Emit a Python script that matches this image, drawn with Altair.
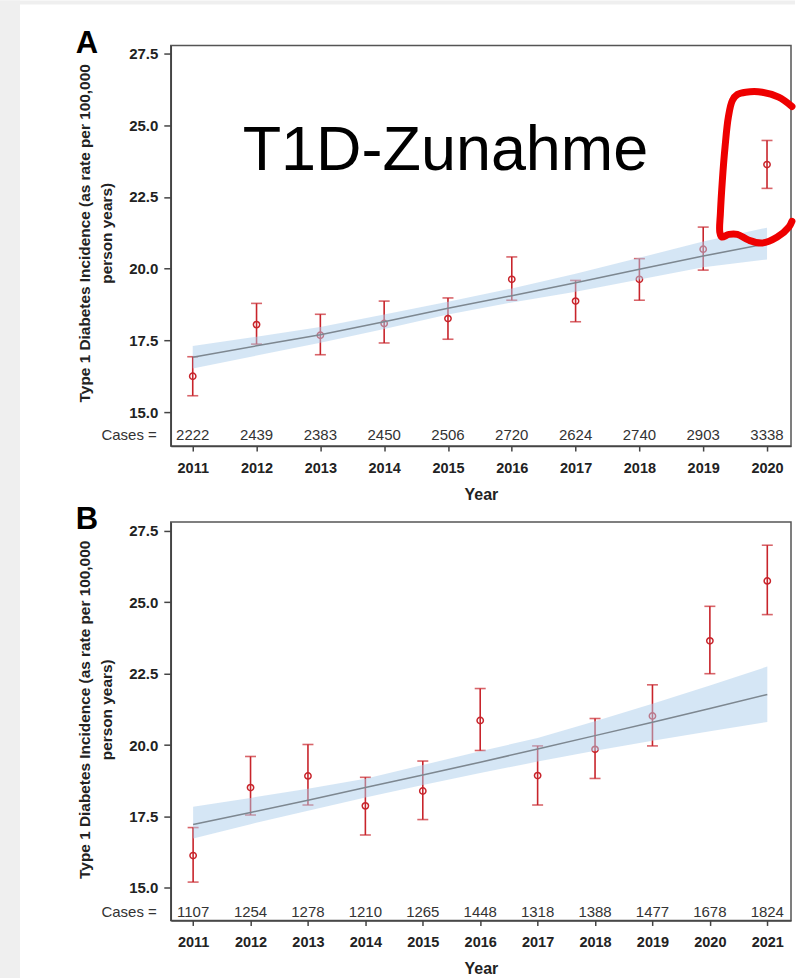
import altair as alt
import pandas as pd

FONT = "Liberation Sans, Arial, sans-serif"
RED = "#c8242b"
GRAY_BG = "#efefef"

# ---------------- Panel A data ----------------
YEARS_A = list(range(2011, 2021))
RATE_A = [16.25, 18.05, 17.68, 18.09, 18.26, 19.63, 18.87, 19.63, 20.68, 23.63]
LO_A = [15.57, 17.37, 17.00, 17.41, 17.54, 18.90, 18.15, 18.90, 19.95, 22.80]
HI_A = [16.93, 18.79, 18.41, 18.87, 18.98, 20.41, 19.59, 20.35, 21.45, 24.47]
CASES_A = [2222, 2439, 2383, 2450, 2506, 2720, 2624, 2740, 2903, 3338]
FIT_A = [16.91, 17.31, 17.70, 18.15, 18.62, 19.06, 19.51, 19.98, 20.44, 20.87]
FIT_LO_A = [16.52, 16.97, 17.42, 17.90, 18.40, 18.82, 19.20, 19.62, 20.05, 20.32]
FIT_HI_A = [17.30, 17.63, 17.97, 18.40, 18.85, 19.31, 19.82, 20.38, 20.95, 21.43]

# ---------------- Panel B data ----------------
YEARS_B = list(range(2011, 2022))
RATE_B = [16.13, 18.51, 18.92, 17.87, 18.39, 20.86, 18.93, 19.85, 21.02, 23.65, 25.75]
LO_B = [15.20, 17.55, 17.90, 16.85, 17.39, 19.81, 17.90, 18.83, 19.97, 22.50, 24.57]
HI_B = [17.11, 19.60, 20.02, 18.87, 19.44, 21.98, 19.97, 20.93, 22.11, 24.86, 27.00]
CASES_B = [1107, 1254, 1278, 1210, 1265, 1448, 1318, 1388, 1477, 1678, 1824]
FIT_B = [17.22, 17.64, 18.07, 18.51, 18.95, 19.40, 19.86, 20.33, 20.80, 21.28, 21.77]
FIT_LO_B = [16.73, 17.23, 17.70, 18.16, 18.60, 19.02, 19.42, 19.80, 20.15, 20.48, 20.81]
FIT_HI_B = [17.84, 18.15, 18.47, 18.82, 19.30, 19.78, 20.25, 20.83, 21.45, 22.09, 22.75]

Y_TICKS = [15.0, 17.5, 20.0, 22.5, 25.0, 27.5]
Y_TITLE = ["Type 1 Diabetes Incidence (as rate per 100,000", "person years)"]

# hand-drawn red annotation (in panel A data coordinates)
MARK_YEAR = [2020.391, 2020.182, 2019.926, 2019.666, 2019.535, 2019.457, 2019.394,
             2019.342, 2019.300, 2019.269, 2019.260, 2019.291, 2019.405, 2019.535,
             2019.718, 2019.926, 2020.161, 2020.344, 2020.391]
MARK_VAL = [25.655, 25.978, 26.153, 26.153, 26.072, 25.863, 25.282, 24.237, 23.078,
            21.918, 21.278, 21.104, 21.198, 21.198, 20.989, 20.895, 21.104, 21.452, 21.650]
ANNOTATION = "T1D-Zunahme"


def make_axes(years, title_y):
    xaxis = alt.Axis(values=years, format="d", title="Year", tickSize=5,
                     labelPadding=10, labelFontSize=14.5, titleFontSize=16,
                     titlePadding=12, labelOverlap=False, zindex=2)
    yaxis = alt.Axis(values=Y_TICKS, format=".1f", title=Y_TITLE, tickSize=7,
                     labelPadding=6, labelFontSize=15, titleFontSize=15.4,
                     titleLineHeight=22, titleX=-86, titleY=title_y,
                     titleBaseline="middle", titleAlign="center", zindex=2)
    return xaxis, yaxis


def panel(years, rate, lo, hi, cases, fit, fit_lo, fit_hi, xdom, ydom, height,
          letter, strips, cases_y, title_y, extra=None):
    df = pd.DataFrame(dict(year=years, rate=rate, lo=lo, hi=hi, cases=cases,
                           fit=fit, fit_lo=fit_lo, fit_hi=fit_hi))
    xs = alt.Scale(domain=xdom, nice=False, zero=False)
    ys = alt.Scale(domain=ydom, nice=False, zero=False)
    xaxis, yaxis = make_axes(years, title_y)

    def X(f):
        return alt.X(f, type="quantitative", scale=xs, axis=xaxis)

    def Y(f):
        return alt.Y(f, type="quantitative", scale=ys, axis=yaxis)

    one = pd.DataFrame({"t": [letter]})
    layers = []
    for (sx, sx2, sy, sy2) in strips:
        layers.append(alt.Chart(one).mark_rect(color=GRAY_BG, strokeWidth=0).encode(
            x=alt.value(sx), x2=alt.value(sx2), y=alt.value(sy), y2=alt.value(sy2)))
    frame = alt.Chart(one).mark_rect(fill=None, filled=False, stroke="#555", strokeWidth=1.5).encode(
        x=alt.value(0), x2=alt.value(621), y=alt.value(0), y2=alt.value(height))
    base = alt.Chart(df)
    rule = base.mark_rule(color=RED, strokeWidth=1.6).encode(x=X("year"), y=Y("lo"), y2="hi")
    tlo = base.mark_tick(color=RED, orient="horizontal", size=11, thickness=1.6).encode(
        x=X("year"), y=Y("lo"))
    thi = base.mark_tick(color=RED, orient="horizontal", size=11, thickness=1.6).encode(
        x=X("year"), y=Y("hi"))
    pts = base.mark_point(shape="circle", size=40, filled=False, color=RED,
                          strokeWidth=1.5, opacity=1).encode(x=X("year"), y=Y("rate"))
    band = base.mark_area(color="#abcdeb", opacity=0.5).encode(
        x=X("year"), y=Y("fit_lo"), y2="fit_hi")
    line = base.mark_line(color="#7d8790", strokeWidth=1.5).encode(x=X("year"), y=Y("fit"))
    ctext = base.mark_text(font=FONT, fontSize=15, color="#333", baseline="middle").encode(
        x=X("year"), y=alt.YDatum(cases_y, scale=ys, axis=yaxis), text=alt.Text("cases:Q", format="d"))
    clabel = alt.Chart(one).mark_text(font=FONT, fontSize=15, color="#333", align="right",
                                      baseline="middle", text="Cases =").encode(
        x=alt.value(-14), y=alt.YDatum(cases_y, scale=ys, axis=yaxis))
    let = alt.Chart(one).mark_text(font=FONT, fontSize=31, fontWeight="bold", color="black",
                                   align="center", baseline="alphabetic").encode(
        x=alt.value(-84), y=alt.value(7), text="t:N")
    layers += [frame, rule, tlo, thi, pts, band, line, ctext, clabel, let]
    if extra:
        layers += extra
    return alt.layer(*layers).properties(width=621, height=height)


XDOM_A = [2010.656, 2020.376]
YDOM_A = [13.816, 27.779]
xax_a, yax_a = make_axes(YEARS_A, 187.5)
mark_df = pd.DataFrame({"year": MARK_YEAR, "val": MARK_VAL, "i": list(range(len(MARK_YEAR)))})
red_curve = alt.Chart(mark_df).mark_line(color="#ee0000", strokeWidth=7, strokeCap="round",
                                         strokeJoin="round", interpolate="catmull-rom").encode(
    x=alt.X("year:Q", scale=alt.Scale(domain=XDOM_A, nice=False, zero=False), axis=xax_a),
    y=alt.Y("val:Q", scale=alt.Scale(domain=YDOM_A, nice=False, zero=False), axis=yax_a),
    order="i:Q")
ann = alt.Chart(pd.DataFrame({"t": [ANNOTATION]})).mark_text(
    font=FONT, fontSize=63, color="black", align="left", baseline="alphabetic").encode(
    x=alt.value(72), y=alt.value(125), text="t:N")

chart_a = panel(YEARS_A, RATE_A, LO_A, HI_A, CASES_A, FIT_A, FIT_LO_A, FIT_HI_A,
                XDOM_A, YDOM_A, 401, "A",
                [(-171, -151, -45, 459), (-171, 625, -45, -41)], 14.2, 187.5,
                extra=[ann, red_curve])
chart_b = panel(YEARS_B, RATE_B, LO_B, HI_B, CASES_B, FIT_B, FIT_LO_B, FIT_HI_B,
                [2010.611, 2021.413], [13.856, 27.815], 399, "B",
                [(-171, -151, -18, 458)], 14.15, 187.6)

chart = alt.vconcat(chart_a, chart_b, spacing=0).properties(
    padding={"left": 0, "top": 0, "right": 0, "bottom": 0},
    background="white",
).configure_view(stroke=None).configure_axis(
    grid=False, domainColor="#444", domainWidth=1.5, tickColor="#444", tickWidth=1.5,
    labelColor="#222", labelFont=FONT, labelFontWeight="bold", titleFont=FONT,
    titleFontWeight="bold", titleColor="#222")

chart.save("out.html", embed_options={"renderer": "svg", "actions": False})
